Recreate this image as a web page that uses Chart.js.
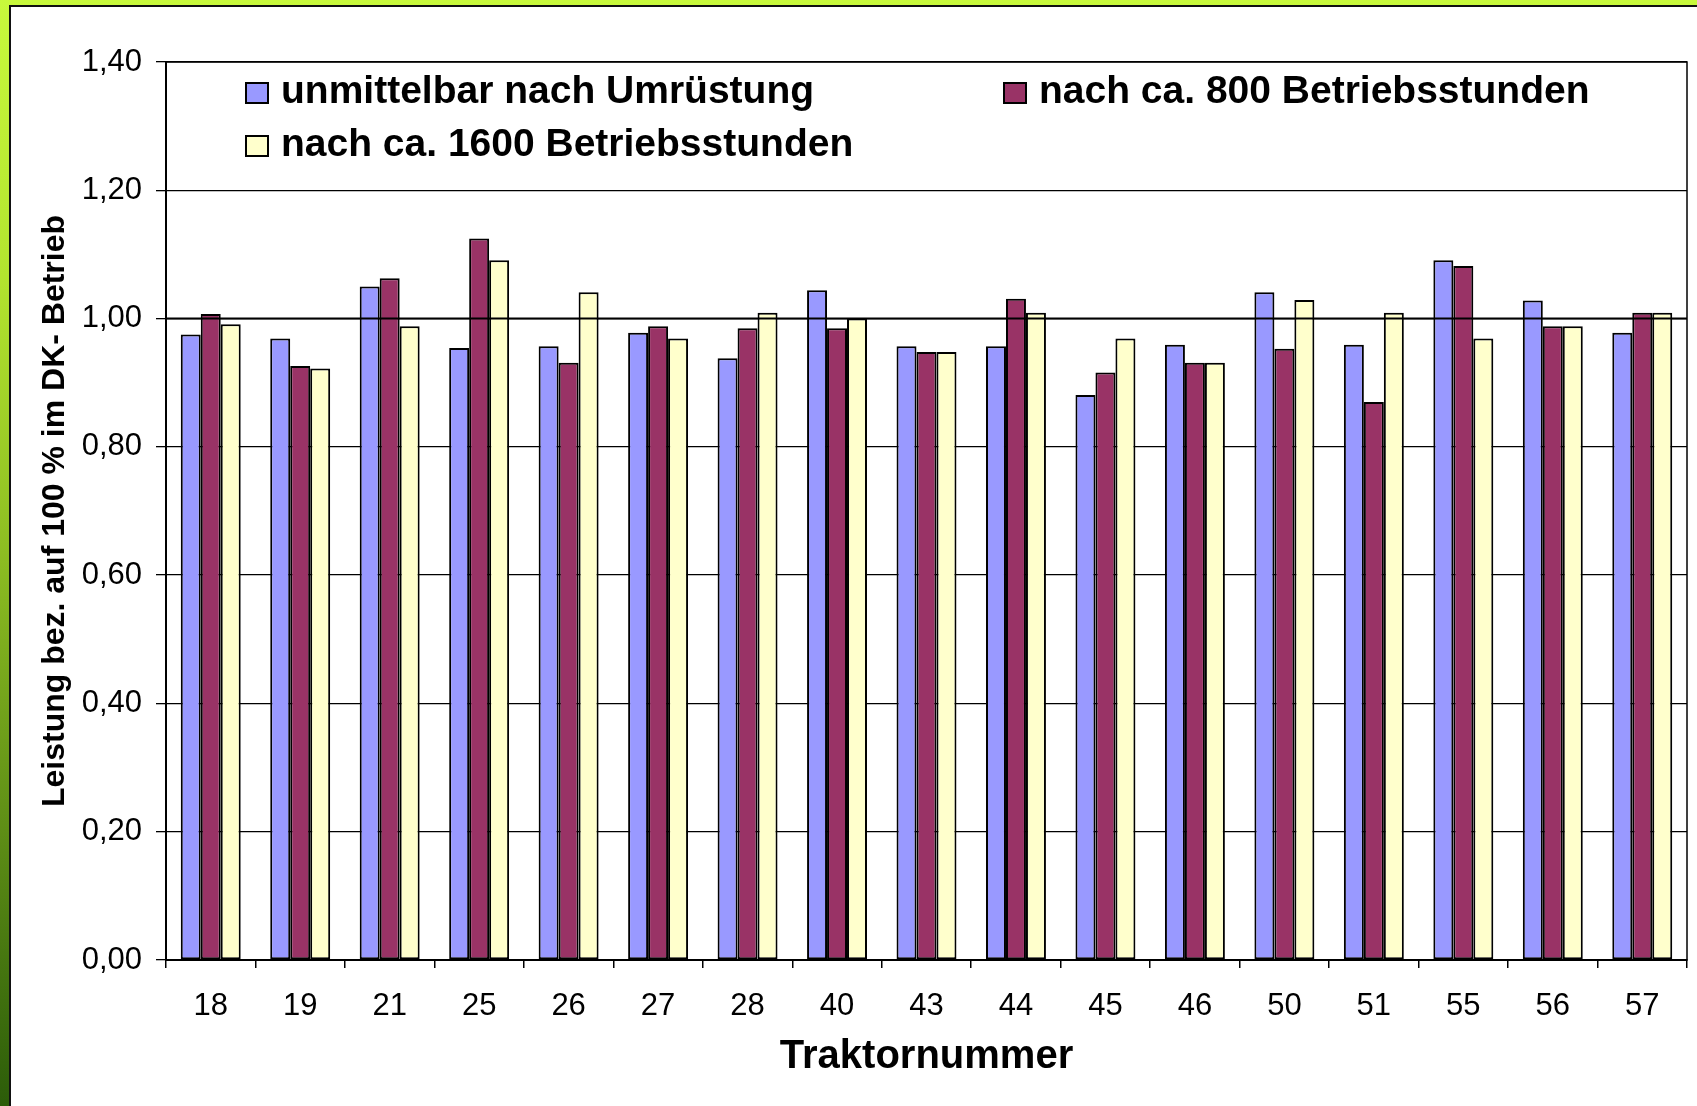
<!DOCTYPE html>
<html lang="de">
<head>
<meta charset="utf-8">
<title>Leistung nach Umrüstung</title>
<script src="https://cdn.jsdelivr.net/npm/chart.js@4.4.0/dist/chart.umd.min.js"></script>
<style>
  html, body { margin: 0; padding: 0; }
  body {
    width: 1697px; height: 1106px; overflow: hidden; position: relative;
    background: linear-gradient(to bottom, #c8f93c 0%, #b3e42f 25%, #8dbd22 50%, #5e8e16 75%, #2c5c09 100%);
  }
  #panel {
    position: absolute; left: 9px; top: 5px; right: 0; bottom: 0;
    background: #fff; border-left: 2px solid #111; border-top: 2px solid #111;
  }
  #chart { position: absolute; left: 0; top: 0; }
</style>
</head>
<body>
<div id="panel"></div>
<canvas id="chart" width="1697" height="1106"></canvas>
<script>
/* ── Daten ─────────────────────────────────────────────────────────────── */
const traktoren = ['18', '19', '21', '25', '26', '27', '28', '40', '43', '44', '45', '46', '50', '51', '55', '56', '57'];

const serien = [
  'unmittelbar nach Umrüstung',
  'nach ca. 800 Betriebsstunden',
  'nach ca. 1600 Betriebsstunden'
];

const werteUmruestung = [0.975, 0.969, 1.050, 0.954, 0.957, 0.978, 0.938, 1.044, 0.957, 0.957, 0.881, 0.959, 1.041, 0.959, 1.091, 1.028, 0.978];
const werte800h       = [1.007, 0.926, 1.063, 1.125, 0.931, 0.988, 0.985, 0.985, 0.948, 1.031, 0.916, 0.931, 0.953, 0.870, 1.082, 0.988, 1.009];
const werte1600h      = [0.991, 0.922, 0.988, 1.091, 1.041, 0.969, 1.009, 1.000, 0.948, 1.009, 0.969, 0.931, 1.029, 1.009, 0.969, 0.988, 1.009];

const yTickLabels = ['0,00', '0,20', '0,40', '0,60', '0,80', '1,00', '1,20', '1,40'];

const farben = ['#9999ff', '#993366', '#ffffcc'];

/* ── Plugins ───────────────────────────────────────────────────────────── */
// Linie bei 1,00 über den Balken + Rahmen der Zeichenfläche
const linienPlugin = {
  id: 'linien',
  afterDatasetsDraw(chart) {
    const { ctx, chartArea: a } = chart;
    const y1 = chart.scales.y.getPixelForValue(1);
    ctx.save();
    ctx.strokeStyle = '#000';
    ctx.lineWidth = 2;
    ctx.beginPath();
    ctx.moveTo(a.left, y1);
    ctx.lineTo(a.right, y1);
    ctx.stroke();
    ctx.lineWidth = 1.5;
    ctx.strokeRect(a.left, a.top, a.right - a.left, a.bottom - a.top);
    ctx.restore();
  }
};

// Legende innerhalb der Zeichenfläche (zwei Spalten)
const legendePlugin = {
  id: 'legende',
  afterDraw(chart) {
    const { ctx, chartArea: a } = chart;
    const pos = [[80, 41], [838, 41], [80, 94]];
    ctx.save();
    ctx.font = 'bold 39px "Liberation Sans", Arial, sans-serif';
    ctx.textBaseline = 'alphabetic';
    chart.data.datasets.forEach((ds, i) => {
      const x = a.left + pos[i][0];
      const yb = a.top + pos[i][1];
      ctx.fillStyle = ds.backgroundColor;
      ctx.fillRect(x, yb - 20, 22, 20);
      ctx.lineWidth = 2;
      ctx.strokeStyle = '#000';
      ctx.strokeRect(x, yb - 20, 22, 20);
      ctx.fillStyle = '#000';
      ctx.fillText(ds.label, x + 35, yb);
    });
    ctx.restore();
  }
};

/* ── Chart ─────────────────────────────────────────────────────────────── */
Chart.defaults.font.family = '"Liberation Sans", Arial, sans-serif';
Chart.defaults.color = '#000';

const werte = [werteUmruestung, werte800h, werte1600h];

new Chart(document.getElementById('chart').getContext('2d'), {
  type: 'bar',
  data: {
    labels: traktoren,
    datasets: serien.map((s, i) => ({
      label: s,
      data: werte[i],
      backgroundColor: farben[i],
      borderColor: '#000',
      borderWidth: 2,
      borderSkipped: false
    }))
  },
  options: {
    responsive: false,
    animation: false,
    layout: { padding: { top: 62, right: 10, left: 0, bottom: 0 } },
    datasets: { bar: { categoryPercentage: 0.67, barPercentage: 1 } },
    plugins: { legend: { display: false }, tooltip: { enabled: false } },
    scales: {
      x: {
        grid: { offset: true, drawOnChartArea: false, color: '#000', lineWidth: 1.5, tickLength: 8 },
        border: { color: '#000', width: 2 },
        ticks: { color: '#000', font: { size: 31 }, padding: 20, maxRotation: 0, autoSkip: false },
        title: {
          display: true, text: 'Traktornummer', color: '#000',
          font: { size: 40, weight: 'bold' }, padding: { top: 0, bottom: 25 }
        },
        afterFit(s) { s.height = 146; }
      },
      y: {
        min: 0,
        max: 1.4,
        ticks: {
          stepSize: 0.2, color: '#000', font: { size: 31 }, padding: 14,
          callback: v => yTickLabels[Math.round(v / 0.2)]
        },
        grid: { color: '#000', lineWidth: 1.3, tickLength: 10 },
        border: { color: '#000', width: 2 },
        title: {
          display: true, text: 'Leistung bez. auf 100 % im DK- Betrieb', color: '#000',
          font: { size: 32, weight: 'bold' }, padding: { top: 36, bottom: 0 }
        },
        afterFit(s) { s.width = 166; }
      }
    }
  },
  plugins: [linienPlugin, legendePlugin]
});
</script>
</body>
</html>
